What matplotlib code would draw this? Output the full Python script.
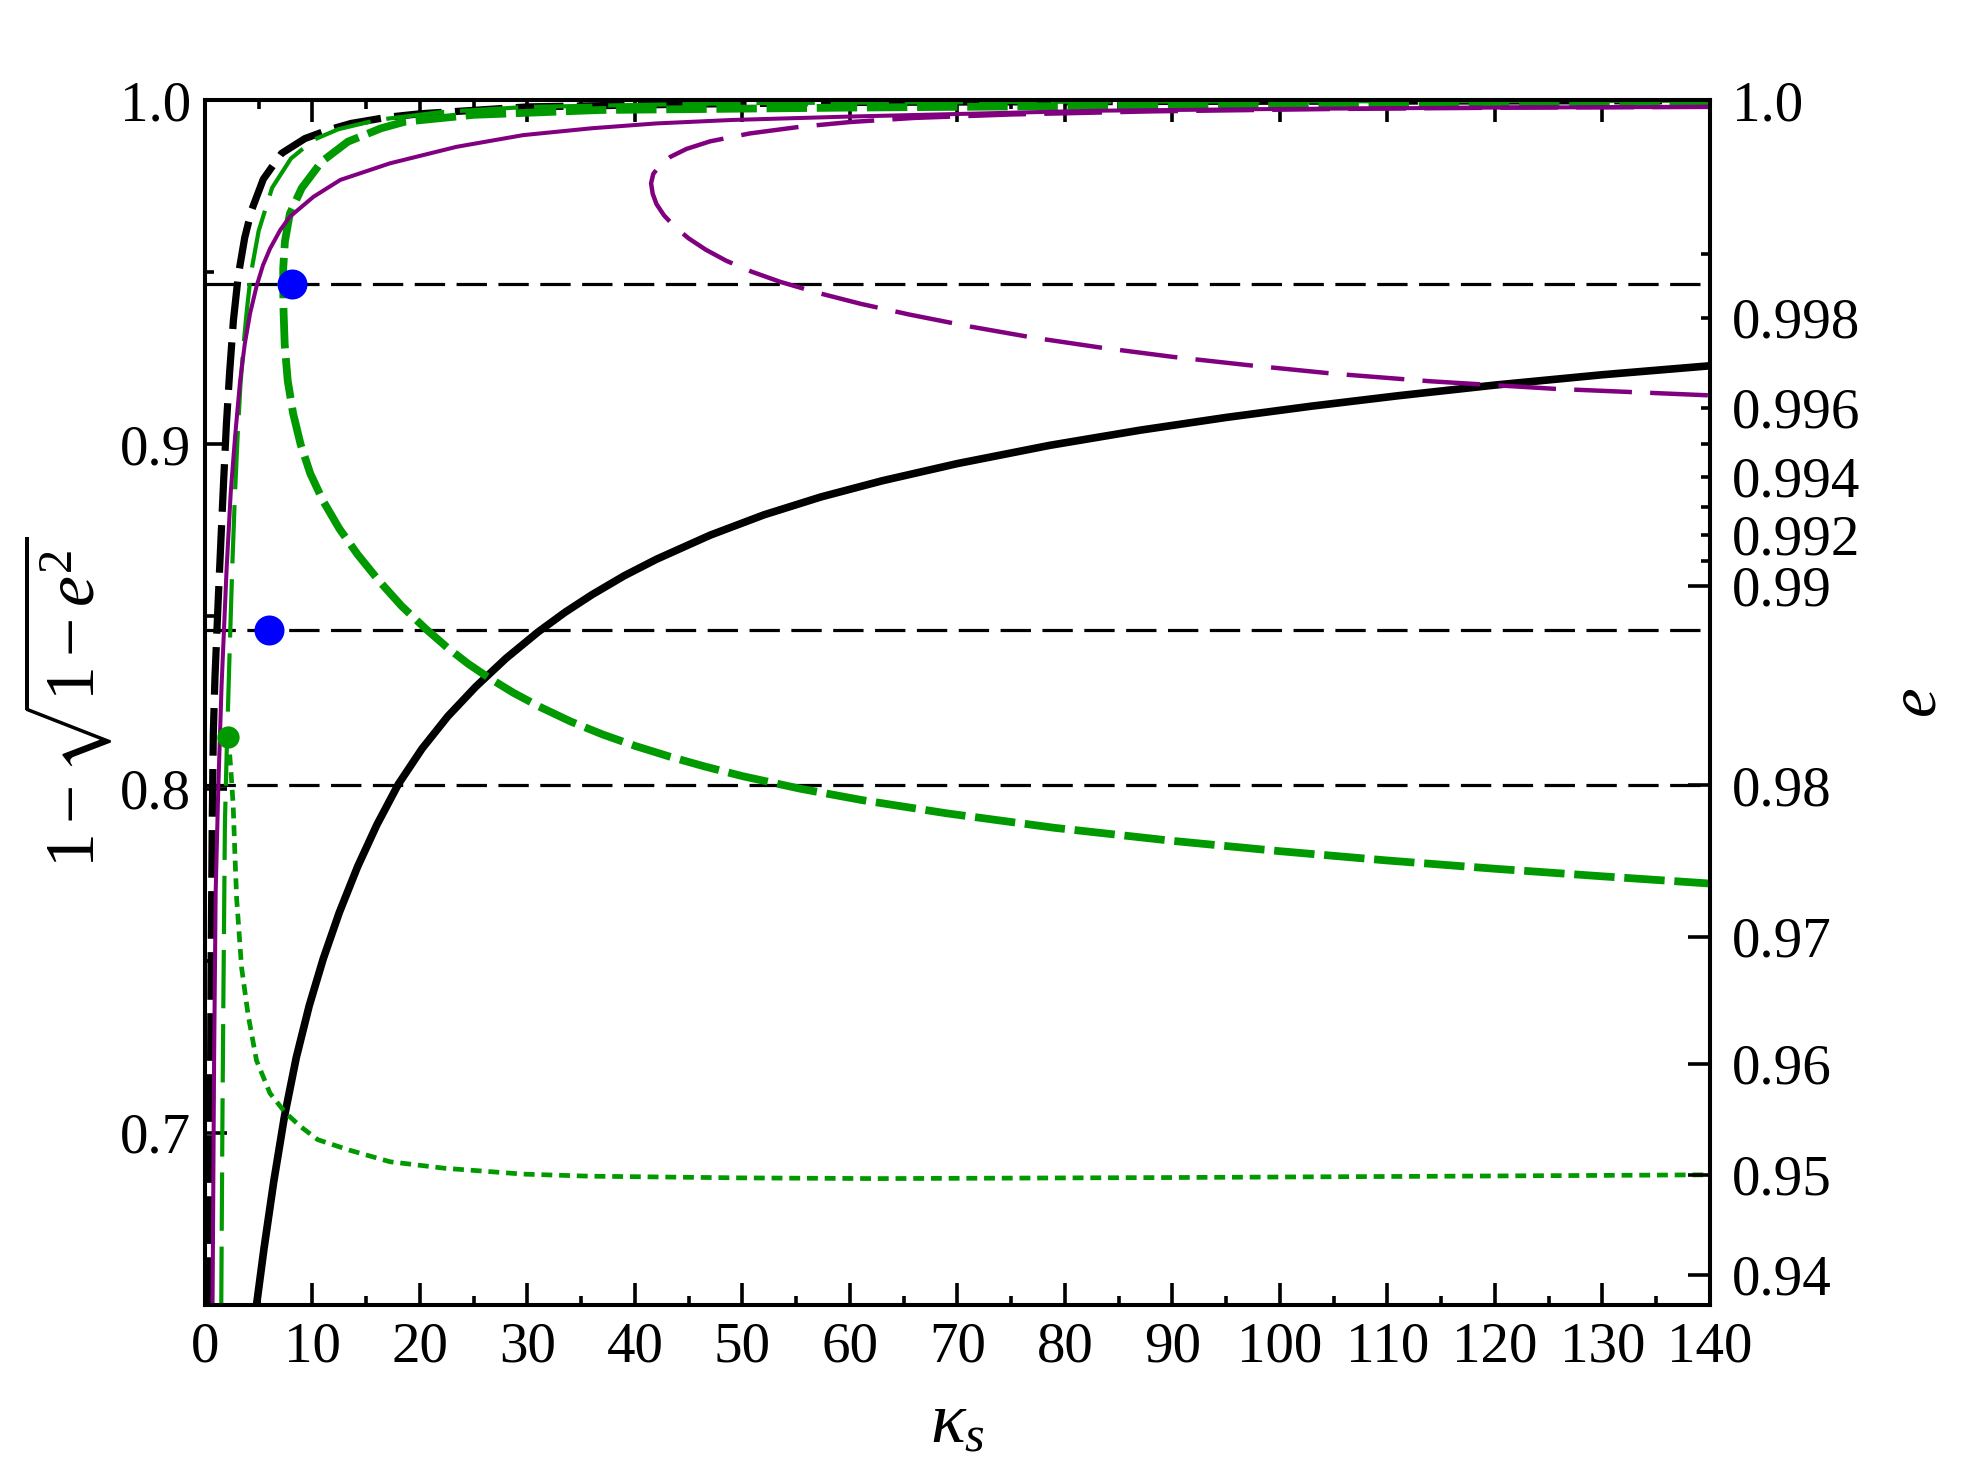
import numpy as np
import matplotlib
matplotlib.use("Agg")
import matplotlib.pyplot as plt

plt.rcParams["font.family"] = ["Liberation Serif", "DejaVu Serif"]
plt.rcParams["mathtext.fontset"] = "custom"
plt.rcParams["mathtext.rm"] = "Liberation Serif"
plt.rcParams["mathtext.it"] = "Liberation Serif:italic"
plt.rcParams["mathtext.fallback"] = "stix"

GREEN = "#009900"
PURPLE = "#800080"

# curves (x = kappa_s, y = 1 - sqrt(1 - e^2))
black_solid_x = [4.8, 5.5, 6.4, 7.4, 8.5, 9.7, 11.0, 12.5, 14.2, 16.0, 18.0, 20.2, 22.6,
                 25.2, 28.0, 31.0, 33.5, 36.0, 39.0, 42.0, 47.0, 52.0, 57.3, 63.0, 70.0,
                 78.6, 87.0, 95.0, 103.0, 111.0, 120.0, 130.0, 140.0]
black_solid_y = [0.650, 0.6665, 0.6858, 0.7048, 0.7219, 0.7369, 0.7505, 0.764, 0.7773,
                 0.7895, 0.8013, 0.8116, 0.821, 0.8296, 0.8378, 0.8455, 0.8512, 0.8563,
                 0.8618, 0.8666, 0.8736, 0.8795, 0.8847, 0.8894, 0.8944, 0.8997, 0.9041,
                 0.9078, 0.9111, 0.9141, 0.9172, 0.9202, 0.9228]

black_dash_x = [0.40, 0.50, 0.58, 0.68, 0.78, 0.93, 1.24, 1.5, 1.75, 2.0, 2.3, 2.65, 3.1,
                3.7, 4.34, 5.43, 7.13, 9.3, 11.47, 13.6, 17.0, 20.0, 30.0, 45.0, 60.0,
                90.0, 140.0]
black_dash_y = [0.650, 0.700, 0.750, 0.790, 0.816, 0.832, 0.855, 0.873, 0.890, 0.906,
                0.921, 0.936, 0.949, 0.960, 0.968, 0.977, 0.9845, 0.9888, 0.9913, 0.9932,
                0.995, 0.996, 0.998, 0.9988, 0.9993, 0.9996, 0.9998]

green_thick_x = [140.0, 110.0, 83.0, 60.0, 36.7, 25.0, 18.6, 16.4, 13.3, 10.86, 9.0, 7.9,
                 7.44, 7.28, 7.3, 7.42, 7.7, 8.2, 8.9, 9.8, 11.0, 12.5, 14.2, 16.2, 18.3,
                 20.5, 22.6, 24.5, 26.4, 28.7, 31.1, 34.0, 37.0, 40.0, 43.2, 46.5, 50.0,
                 55.3, 61.2, 69.0, 79.0, 90.0, 100.0, 110.0, 120.0, 130.0, 140.0]
green_thick_y = [0.9993, 0.9989, 0.9983, 0.9978, 0.9971, 0.9957, 0.9937, 0.9918, 0.9879,
                 0.9821, 0.9744, 0.967, 0.9589, 0.951, 0.940, 0.929, 0.9185, 0.909, 0.900,
                 0.8915, 0.8835, 0.8755, 0.868, 0.8603, 0.853, 0.8465, 0.8408, 0.8362,
                 0.8322, 0.8278, 0.8238, 0.8195, 0.8157, 0.8124, 0.8093, 0.8064, 0.8036,
                 0.8000, 0.7966, 0.7928, 0.7886, 0.7848, 0.7818, 0.7791, 0.7767, 0.7745,
                 0.7724]

green_thin_x = [1.52, 1.62, 1.72, 1.86, 2.02, 2.3, 2.55, 2.8, 3.05, 3.3, 3.6, 3.9, 4.3,
                5.0, 6.25, 8.0, 10.15, 12.4, 16.0, 22.0, 30.0, 50.0, 80.0, 140.0]
green_thin_y = [0.650, 0.700, 0.740, 0.790, 0.810, 0.840, 0.865, 0.886, 0.903, 0.917,
                0.929, 0.939, 0.950, 0.962, 0.9745, 0.983, 0.9885, 0.9915, 0.9942, 0.9965,
                0.998, 0.9991, 0.9995, 0.9998]

green_dot_x = [2.17, 2.4, 2.63, 2.8, 2.95, 3.41, 4.03, 4.8, 6.05, 7.44, 8.9, 10.5, 13.4,
               17.2, 22.3, 29.6, 35.7, 50.0, 62.5, 89.3, 116.0, 140.0]
green_dot_y = [0.815, 0.806, 0.795, 0.780, 0.768, 0.748, 0.734, 0.721, 0.7115, 0.706,
               0.7018, 0.698, 0.695, 0.6916, 0.6897, 0.688, 0.6874, 0.6869, 0.6867,
               0.687, 0.6874, 0.6878]

purple_solid_x = [0.71, 0.85, 1.0, 1.24, 1.55, 2.02, 2.4, 2.8, 3.26, 3.7, 4.2, 4.81, 5.4,
                  6.05, 7.0, 7.9, 10.1, 12.6, 17.2, 23.4, 29.6, 36.0, 42.0, 49.0, 60.0,
                  83.0, 100.0, 120.0, 140.0]
purple_solid_y = [0.650, 0.720, 0.770, 0.800, 0.830, 0.864, 0.886, 0.902, 0.918, 0.929,
                  0.938, 0.946, 0.952, 0.9568, 0.9622, 0.9661, 0.9719, 0.9768, 0.9816,
                  0.9864, 0.9898, 0.9918, 0.9932, 0.9942, 0.9952, 0.9969, 0.9974, 0.9978,
                  0.998]

purple_dash_x = [140.0, 122.0, 105.0, 88.0, 75.0, 66.0, 60.0, 55.3, 50.7, 47.0, 44.8, 43.3,
                 42.3, 41.7, 41.5, 41.65, 42.0, 42.7, 43.7, 45.0, 46.6, 48.5, 50.8, 53.5,
                 57.0, 61.0, 65.5, 71.0, 77.0, 83.3, 90.0, 97.0, 105.0, 114.0, 125.6, 140.0]
purple_dash_y = [0.998, 0.9978, 0.9974, 0.9967, 0.9958, 0.9948, 0.9936, 0.9922, 0.9903,
                 0.9880, 0.9858, 0.9835, 0.981, 0.9785, 0.9758, 0.9728, 0.9698, 0.9665,
                 0.9632, 0.9598, 0.9565, 0.9533, 0.9502, 0.9472, 0.944, 0.9408, 0.9377,
                 0.9343, 0.931, 0.9281, 0.9254, 0.923, 0.9205, 0.9183, 0.9161, 0.9142]

hlines_y = [0.9466, 0.846, 0.8009]
blue_pts_x = [8.1, 6.0]
blue_pts_y = [0.9466, 0.846]
green_pt = (2.17, 0.815)

# right axis: eccentricity ticks
e_major = [0.94, 0.95, 0.96, 0.97, 0.98, 0.99, 1.0]
e_major_labels = ["0.94", "0.95", "0.96", "0.97", "0.98", "0.99", "1.0"]
e_minor = [0.991, 0.992, 0.993, 0.994, 0.995, 0.996, 0.997, 0.998, 0.999]
e_minor_labels = ["", "0.992", "", "0.994", "", "0.996", "", "0.998", ""]


def e_to_y(e):
    return 1 - np.sqrt(1 - np.asarray(e) ** 2)


fig = plt.figure(figsize=(19.61, 14.73), dpi=100)
ax = fig.add_axes([0.1045, 0.1141, 0.7675, 0.818])

for y in hlines_y:
    ax.axhline(y, color="black", lw=2.3, ls=(0, (9.5, 3.6)), zorder=1)

ax.plot(black_solid_x, black_solid_y, color="black", lw=5.5, zorder=3)
ax.plot(black_dash_x, black_dash_y, color="black", lw=5.2, ls=(0, (6.6, 1.85)), zorder=3)
ax.plot(green_thick_x, green_thick_y, color=GREEN, lw=5.6, ls=(0, (5.2, 1.25)), zorder=4)
ax.plot(green_thin_x, green_thin_y, color=GREEN, lw=3.0, ls=(0, (14, 3.8)), zorder=4)
ax.plot(green_dot_x, green_dot_y, color=GREEN, lw=3.4, ls=(0, (2.3, 1.45)), zorder=4)
ax.plot(purple_dash_x, purple_dash_y, color=PURPLE, lw=3.2, ls=(0, (13, 4.1)), zorder=5)
ax.plot(purple_solid_x, purple_solid_y, color=PURPLE, lw=2.9, zorder=5)

ax.plot(blue_pts_x, blue_pts_y, "o", color="blue", ms=21.6, mec="none", zorder=7)
ax.plot(*green_pt, "o", color=GREEN, ms=16, mec="none", zorder=7)

ax.set_xlim(0, 140)
ax.set_ylim(0.65, 1.0)
ax.set_xticks(np.arange(0, 141, 10))
ax.set_xticks(np.arange(5, 140, 10), minor=True)
ax.set_yticks([0.7, 0.8, 0.9, 1.0], labels=["0.7", "0.8", "0.9", "1.0"])
ax.set_yticks([0.75, 0.85, 0.95], minor=True)
ax.tick_params(which="both", direction="in", top=True, right=False, width=2.6,
               labelsize=41)
ax.tick_params(axis="x", which="major", length=16, pad=12)
ax.tick_params(axis="y", which="major", length=16, pad=10)
ax.tick_params(which="minor", length=6.5)
for s in ax.spines.values():
    s.set_linewidth(2.9)

ax.set_xlabel(r"$\kappa_s$", fontsize=52, labelpad=14)
ax.set_ylabel(r"$\mathit{1}-\sqrt{\mathit{1}-e^{2}}$", fontsize=50, labelpad=4)

ax2 = ax.twinx()
ax2.set_ylim(0.65, 1.0)
ax2.set_yticks(e_to_y(e_major), labels=e_major_labels)
ax2.set_yticks(e_to_y(e_minor), labels=e_minor_labels, minor=True)
ax2.tick_params(which="both", direction="in", width=2.6, labelsize=41, pad=16)
ax2.tick_params(which="major", length=16)
ax2.tick_params(which="minor", length=6.5)
for s in ax2.spines.values():
    s.set_linewidth(2.9)
ax2.set_ylabel(r"$e$", fontsize=48, labelpad=20)

fig.savefig("out.png", dpi=100)
